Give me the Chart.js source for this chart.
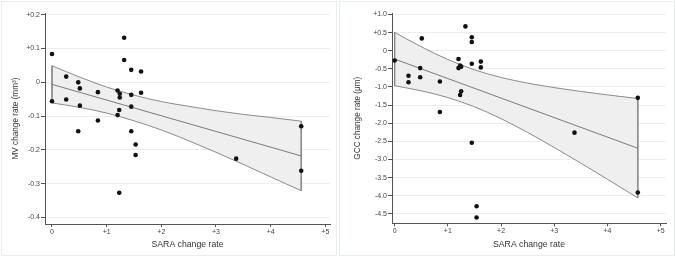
<!DOCTYPE html>
<html>
<head>
<meta charset="utf-8">
<script src="https://cdn.jsdelivr.net/npm/chart.js@4.4.1/dist/chart.umd.min.js"></script>
<style>
  body { margin: 0; background: #fff; }
  .wrap { position: relative; width: 676px; height: 257px; }
  canvas { position: absolute; top: 0; }
  .frame { position: absolute; top: 1px; height: 253px; width: 334px; border: 1px solid #e6eef2; pointer-events: none; }
</style>
</head>
<body>
<div class="wrap">
  <canvas id="mvChart" width="338" height="257" style="left:0"></canvas>
  <canvas id="gccChart" width="338" height="257" style="left:338px"></canvas>
  <div class="frame" style="left:1px"></div>
  <div class="frame" style="left:339px"></div>
</div>
<script>
// --- datos ---
const xTicks = [0, 1, 2, 3, 4, 5];

// panel izquierdo: MV
const mvX = [0, 0, 0.26, 0.26, 0.48, 0.51, 0.51, 0.48, 0.84, 0.84, 1.32, 1.32, 1.20, 1.24, 1.24, 1.23, 1.20, 1.23, 1.45, 1.45, 1.45, 1.45, 1.53, 1.53, 1.63, 1.63, 3.37, 4.56, 4.56];
const mvY = [0.084, -0.056, 0.017, -0.051, 0.0, -0.018, -0.069, -0.145, -0.029, -0.113, 0.132, 0.066, -0.024, -0.034, -0.045, -0.082, -0.097, -0.327, 0.037, -0.037, -0.072, -0.145, -0.184, -0.215, 0.032, -0.031, -0.226, -0.130, -0.262];
const mvBandX = [0, 0.5, 1, 1.5, 2, 2.5, 3, 3.5, 4, 4.56];
const mvUpper = [0.049, 0.016, -0.014, -0.038, -0.057, -0.071, -0.084, -0.095, -0.104, -0.115];
const mvLower = [-0.061, -0.074, -0.091, -0.114, -0.141, -0.173, -0.207, -0.243, -0.280, -0.321];
const mvFit = [-0.006, -0.218];
const mvTicks = [0.2, 0.1, 0, -0.1, -0.2, -0.3, -0.4];

// panel derecho: GCC
const gccX = [0, 0.26, 0.26, 0.48, 0.48, 0.51, 0.85, 0.85, 1.33, 1.20, 1.23, 1.25, 1.20, 1.25, 1.23, 1.45, 1.45, 1.45, 1.45, 1.62, 1.62, 1.54, 1.54, 3.38, 4.57, 4.57];
const gccY = [-0.27, -0.69, -0.87, -0.48, -0.73, 0.34, -0.85, -1.69, 0.67, -0.23, -0.41, -0.44, -0.48, -1.12, -1.22, 0.37, 0.24, -0.36, -2.54, -0.30, -0.46, -4.29, -4.60, -2.26, -1.30, -3.91];
const gccBandX = [0, 0.5, 1, 1.5, 2, 2.5, 3, 3.5, 4, 4.57];
const gccUpper = [0.506, 0.109, -0.243, -0.527, -0.738, -0.894, -1.018, -1.124, -1.218, -1.32];
const gccLower = [-0.966, -1.107, -1.293, -1.547, -1.874, -2.256, -2.670, -3.102, -3.546, -4.06];
const gccFit = [-0.23, -2.69];
const gccTicks = [1.0, 0.5, 0, -0.5, -1.0, -1.5, -2.0, -2.5, -3.0, -3.5, -4.0, -4.5];

const FONT = "'Liberation Sans', Arial, sans-serif";
const EDGE = '#8a8a8a';

function pts(xs, ys) {
    return xs.map((x, i) => ({ x: x, y: ys[i] }));
}

function makeChart(id, p) {
    const last = p.bandX.length - 1;
    const lineDs = (data, extra) => Object.assign({
        type: 'line', data: data, borderColor: EDGE, borderWidth: 1,
        pointRadius: 0, fill: false, tension: 0
    }, extra || {});

    new Chart(document.getElementById(id), {
        type: 'scatter',
        data: {
            datasets: [
                { data: pts(p.x, p.y), backgroundColor: '#111', borderColor: '#111', pointRadius: 2.3, pointBorderWidth: 0 },
                lineDs([{ x: p.bandX[0], y: p.fit[0] }, { x: p.bandX[last], y: p.fit[1] }], { borderColor: '#7a7a7a' }),
                lineDs([{ x: p.bandX[0], y: p.upper[0] }, { x: p.bandX[0], y: p.lower[0] }]),
                lineDs([{ x: p.bandX[last], y: p.upper[last] }, { x: p.bandX[last], y: p.lower[last] }]),
                lineDs(pts(p.bandX, p.upper), { fill: '+1', backgroundColor: '#efefef', cubicInterpolationMode: 'monotone' }),
                lineDs(pts(p.bandX, p.lower), { cubicInterpolationMode: 'monotone' })
            ]
        },
        options: {
            responsive: false,
            animation: false,
            devicePixelRatio: 1,
            layout: { padding: { top: 13, right: p.padRight, left: 0, bottom: 0 } },
            plugins: {
                legend: { display: false },
                tooltip: { enabled: false },
                filler: { drawTime: 'beforeDatasetsDraw' }
            },
            scales: {
                x: {
                    type: 'linear', min: p.xMin, max: p.xMax,
                    afterFit: s => { s.height = p.xAxisH; },
                    afterBuildTicks: s => { s.ticks = xTicks.map(v => ({ value: v })); },
                    border: { color: '#555', width: 1 },
                    grid: { drawOnChartArea: false, drawTicks: true, tickLength: 3, tickColor: '#555' },
                    ticks: { padding: 1, color: '#444', font: { family: FONT, size: 7 }, maxRotation: 0,
                        callback: v => v === 0 ? '0' : '+' + v },
                    title: { display: true, text: 'SARA change rate', color: '#333',
                        font: { family: FONT, size: 8.7 }, padding: { top: 0, bottom: 7 } }
                },
                y: {
                    type: 'linear', min: p.yMin, max: p.yMax,
                    afterFit: s => { s.width = p.yAxisW; },
                    afterBuildTicks: s => { s.ticks = p.yTicks.map(v => ({ value: v })); },
                    border: { color: '#555', width: 1 },
                    grid: { color: '#e6f0f3', drawTicks: true, tickLength: 4, tickColor: '#555' },
                    ticks: { padding: 1, color: '#444', font: { family: FONT, size: 7 },
                        callback: v => v === 0 ? '0' : (v > 0 ? '+' : '') + v.toFixed(1) },
                    title: { display: true, text: p.yTitle, color: '#333',
                        font: { family: FONT, size: 8.2 }, padding: { top: p.yTitlePad, bottom: 0 } }
                }
            }
        }
    });
}

window.onload = () => {
    makeChart('mvChart', {
        x: mvX, y: mvY, bandX: mvBandX, upper: mvUpper, lower: mvLower, fit: mvFit,
        yTicks: mvTicks, yMin: -0.4195, yMax: 0.2053, xMin: -0.128, xMax: 5.086,
        yAxisW: 45, xAxisH: 33, padRight: 8, yTitle: 'MV change rate (mm³)', yTitlePad: 11
    });
    makeChart('gccChart', {
        x: gccX, y: gccY, bandX: gccBandX, upper: gccUpper, lower: gccLower, fit: gccFit,
        yTicks: gccTicks, yMin: -4.76, yMax: 1.04, xMin: -0.05, xMax: 5.1,
        yAxisW: 54, xAxisH: 33.7, padRight: 10, yTitle: 'GCC change rate (μm)', yTitlePad: 15
    });
};
</script>
</body>
</html>
